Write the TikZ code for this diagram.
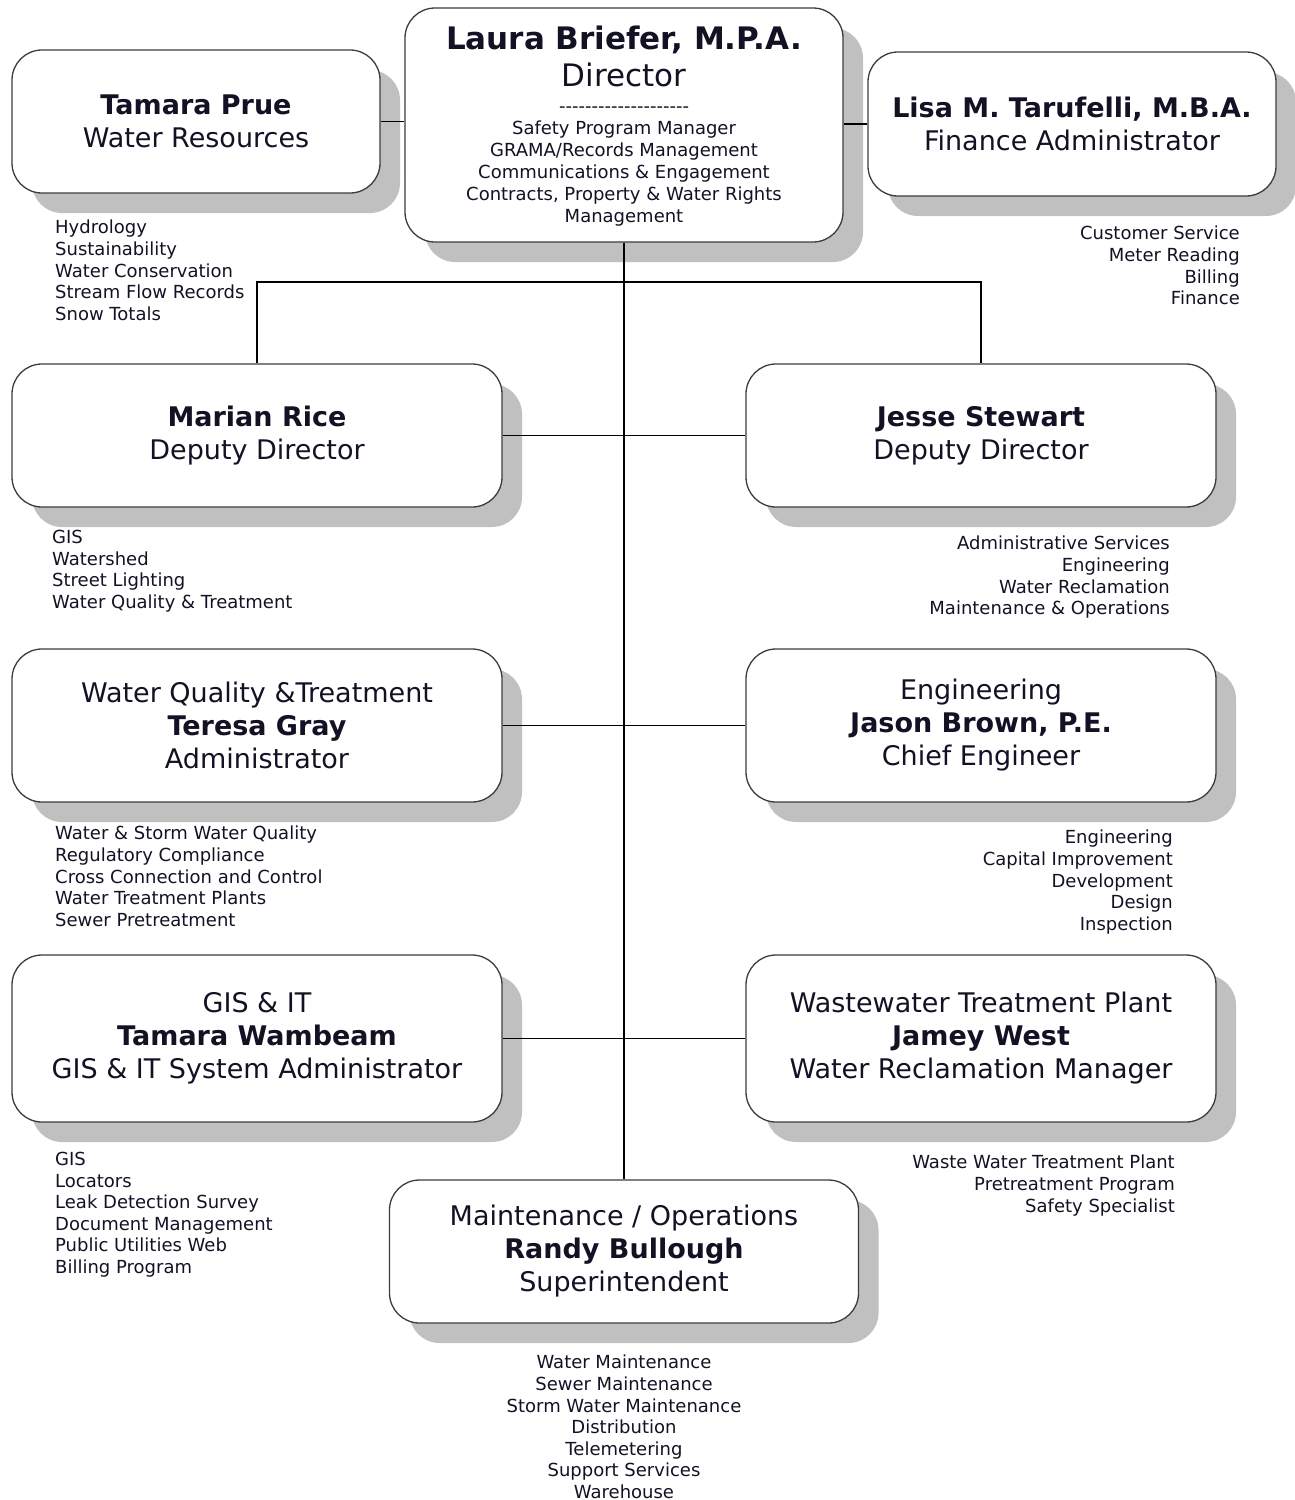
\documentclass[tikz,border=0pt]{standalone}
\usepackage{fontspec}
\setmainfont{DejaVu Sans}
\usetikzlibrary{positioning, shadows}

\definecolor{shadowgray}{RGB}{192,192,192}
\definecolor{boxline}{RGB}{60,60,60}
\definecolor{inktext}{RGB}{18,18,36}

\tikzset{
  unitbox/.style={draw=boxline, line width=1.3pt, fill=white, rounded corners=30pt,
    drop shadow={shadow xshift=20pt, shadow yshift=-20pt, fill=shadowgray, opacity=1},
    align=center, inner sep=0pt, text=inktext, font=\fontsize{27}{33}\selectfont},
  duties/.style={inner sep=0pt, text=inktext, font=\fontsize{18}{21.6}\selectfont},
  link/.style={line width=1.6pt, black},
}

% row of single hyphens, kept apart so they do not join into dashes
\newcommand{\hyphenrow}{-{}-{}-{}-{}-{}-{}-{}-{}-{}-{}-{}-{}-{}-{}-{}-{}-{}-{}-{}-}

\begin{document}
\begin{tikzpicture}[x=1pt, y=-1pt]
    \useasboundingbox (0,0) rectangle (1294,1500);

    % Director box with her own staff functions inside
    \node[unitbox, minimum width=438pt, minimum height=234pt] (dir) at (624,125) {};
    \node[inner sep=0pt, align=center, text=inktext, font=\fontsize{31}{37}\selectfont]
        (dirname) at (624,56) {\textbf{Laura Briefer, M.P.A.}\\Director};
    \node[duties, align=center, font=\fontsize{18}{22}\selectfont, below=20pt of dirname]
        (dirduties) {\hyphenrow\\Safety Program Manager\\GRAMA/Records Management\\
        Communications \& Engagement\\Contracts, Property \& Water Rights\\Management};

    % Staff boxes beside the director
    \node[unitbox, minimum width=368pt, minimum height=143pt] (tprue) at (196,121.5)
        {\textbf{Tamara Prue}\\Water Resources};
    \node[unitbox, minimum width=408pt, minimum height=144pt] (lisa) at (1072,124)
        {\textbf{Lisa M. Tarufelli, M.B.A.}\\Finance Administrator};

    % Deputy directors
    \node[unitbox, minimum width=490pt, minimum height=143pt] (mrice) at (257,435.5)
        {\textbf{Marian Rice}\\Deputy Director};
    \node[unitbox, minimum width=470pt, minimum height=143pt] (jstew) at (981,435.5)
        {\textbf{Jesse Stewart}\\Deputy Director};

    % Division heads
    \node[unitbox, minimum width=490pt, minimum height=153pt] (wqt) at (257,725.5)
        {Water Quality \&Treatment\\\textbf{Teresa Gray}\\Administrator};
    \node[unitbox, minimum width=470pt, minimum height=153pt] (eng) at (981,725.5)
        {Engineering\\\textbf{Jason Brown, P.E.}\\Chief Engineer\rule[-2pt]{0pt}{1pt}};
    \node[unitbox, minimum width=490pt, minimum height=167pt] (gis) at (257,1038.5)
        {GIS \& IT\\\textbf{Tamara Wambeam}\\GIS \& IT System Administrator};
    \node[unitbox, minimum width=470pt, minimum height=167pt] (wwtp) at (981,1038.5)
        {Wastewater Treatment Plant\\\textbf{Jamey West}\\Water Reclamation Manager};
    \node[unitbox, minimum width=469pt, minimum height=143pt] (mops) at (624,1251.5)
        {Maintenance / Operations\\\textbf{Randy Bullough}\\Superintendent};

    % Duties listed under each box
    \node[duties, align=left, anchor=north west] (tpruelist) at (55,220)
        {Hydrology\\Sustainability\\Water Conservation\\Stream Flow Records\\Snow Totals};
    \node[duties, align=right, anchor=north east] (lisalist) at (1240,226)
        {Customer Service\\Meter Reading\\Billing\\Finance};
    \node[duties, align=left, anchor=north west] (mricelist) at (52,530)
        {GIS\\Watershed\\Street Lighting\\Water Quality \& Treatment};
    \node[duties, align=right, anchor=north east] (jstewlist) at (1170,536)
        {Administrative Services\\Engineering\\Water Reclamation\\Maintenance \& Operations};
    \node[duties, align=left, anchor=north west] (wqtlist) at (55,826)
        {Water \& Storm Water Quality\\Regulatory Compliance\\Cross Connection and Control\\
        Water Treatment Plants\\Sewer Pretreatment};
    \node[duties, align=right, anchor=north east] (englist) at (1173,830)
        {Engineering\\Capital Improvement\\Development\\Design\\Inspection};
    \node[duties, align=left, anchor=north west] (gislist) at (55,1152)
        {GIS\\Locators\\Leak Detection Survey\\Document Management\\Public Utilities Web\\
        Billing Program};
    \node[duties, align=right, anchor=north east] (wwtplist) at (1175,1155)
        {Waste Water Treatment Plant\\Pretreatment Program\\Safety Specialist};
    \node[duties, align=center, anchor=north] (mopslist) at (624,1355)
        {Water Maintenance\\Sewer Maintenance\\Storm Water Maintenance\\Distribution\\
        Telemetering\\Support Services\\Warehouse};

    % Reporting lines
    \coordinate (bus) at (624,282);
    \draw[link] (tprue.east) -- (tprue.east -| dir.west);
    \draw[link] (lisa.west) -- (lisa.west -| dir.east);
    \draw[link] (dir.south) -- (mops.north);
    \draw[link] (mrice.north) |- (bus) -| (jstew.north);
    \draw[link] (mrice.east) -- (jstew.west);
    \draw[link] (wqt.east) -- (eng.west);
    \draw[link] (gis.east) -- (wwtp.west);
\end{tikzpicture}
\end{document}
